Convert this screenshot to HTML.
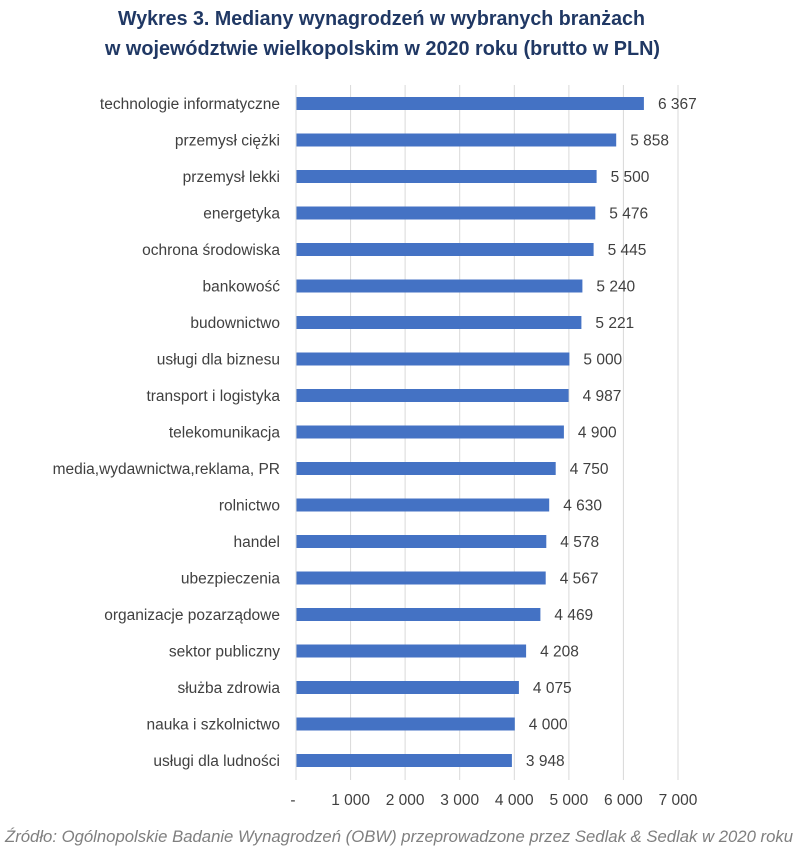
<!DOCTYPE html>
<html><head><meta charset="utf-8"><style>
html,body{margin:0;padding:0;background:#fff;width:800px;height:851px;overflow:hidden}
svg{display:block}
.c{font-family:"Liberation Sans",sans-serif;font-size:15.5px;fill:#404040}
.v{font-family:"Liberation Sans",sans-serif;font-size:15.5px;fill:#404040}
.t{font-family:"Liberation Sans",sans-serif;font-size:20.5px;font-weight:bold;fill:#203864}
</style></head><body>
<svg width="800" height="851" viewBox="0 0 800 851" xmlns="http://www.w3.org/2000/svg">
<text class="t" x="118" y="25" textLength="527" lengthAdjust="spacingAndGlyphs">Wykres 3. Mediany wynagrodzeń w wybranych branżach</text>
<text class="t" x="105" y="55" textLength="555" lengthAdjust="spacingAndGlyphs">w województwie wielkopolskim w 2020 roku (brutto w PLN)</text>
<g stroke="#d9d9d9" stroke-width="1">
<line x1="296" y1="85" x2="296" y2="780"/>
<line x1="350.6" y1="85" x2="350.6" y2="780"/>
<line x1="405.1" y1="85" x2="405.1" y2="780"/>
<line x1="459.7" y1="85" x2="459.7" y2="780"/>
<line x1="514.3" y1="85" x2="514.3" y2="780"/>
<line x1="568.9" y1="85" x2="568.9" y2="780"/>
<line x1="623.4" y1="85" x2="623.4" y2="780"/>
<line x1="678" y1="85" x2="678" y2="780"/>
</g>
<g fill="#4472C4">
<rect x="296.5" y="97" width="347.4" height="13"/>
<rect x="296.5" y="133.5" width="319.7" height="13"/>
<rect x="296.5" y="170" width="300.1" height="13"/>
<rect x="296.5" y="206.5" width="298.8" height="13"/>
<rect x="296.5" y="243" width="297.1" height="13"/>
<rect x="296.5" y="279.5" width="285.9" height="13"/>
<rect x="296.5" y="316" width="284.9" height="13"/>
<rect x="296.5" y="352.5" width="272.9" height="13"/>
<rect x="296.5" y="389" width="272.1" height="13"/>
<rect x="296.5" y="425.5" width="267.4" height="13"/>
<rect x="296.5" y="462" width="259.2" height="13"/>
<rect x="296.5" y="498.5" width="252.7" height="13"/>
<rect x="296.5" y="535" width="249.8" height="13"/>
<rect x="296.5" y="571.5" width="249.2" height="13"/>
<rect x="296.5" y="608" width="243.9" height="13"/>
<rect x="296.5" y="644.5" width="229.6" height="13"/>
<rect x="296.5" y="681" width="222.4" height="13"/>
<rect x="296.5" y="717.5" width="218.3" height="13"/>
<rect x="296.5" y="754" width="215.4" height="13"/>
</g>
<g class="c" text-anchor="end">
<text x="280" y="109">technologie informatyczne</text>
<text x="280" y="145.5">przemysł ciężki</text>
<text x="280" y="182">przemysł lekki</text>
<text x="280" y="218.5">energetyka</text>
<text x="280" y="255">ochrona środowiska</text>
<text x="280" y="291.5">bankowość</text>
<text x="280" y="328">budownictwo</text>
<text x="280" y="364.5">usługi dla biznesu</text>
<text x="280" y="401">transport i logistyka</text>
<text x="280" y="437.5">telekomunikacja</text>
<text x="280" y="474">media,wydawnictwa,reklama, PR</text>
<text x="280" y="510.5">rolnictwo</text>
<text x="280" y="547">handel</text>
<text x="280" y="583.5">ubezpieczenia</text>
<text x="280" y="620">organizacje pozarządowe</text>
<text x="280" y="656.5">sektor publiczny</text>
<text x="280" y="693">służba zdrowia</text>
<text x="280" y="729.5">nauka i szkolnictwo</text>
<text x="280" y="766">usługi dla ludności</text>
</g>
<g class="v">
<text x="658" y="109">6 367</text>
<text x="630.2" y="145.5">5 858</text>
<text x="610.6" y="182">5 500</text>
<text x="609.3" y="218.5">5 476</text>
<text x="607.6" y="255">5 445</text>
<text x="596.4" y="291.5">5 240</text>
<text x="595.4" y="328">5 221</text>
<text x="583.4" y="364.5">5 000</text>
<text x="582.6" y="401">4 987</text>
<text x="577.9" y="437.5">4 900</text>
<text x="569.7" y="474">4 750</text>
<text x="563.2" y="510.5">4 630</text>
<text x="560.3" y="547">4 578</text>
<text x="559.7" y="583.5">4 567</text>
<text x="554.4" y="620">4 469</text>
<text x="540.1" y="656.5">4 208</text>
<text x="532.9" y="693">4 075</text>
<text x="528.8" y="729.5">4 000</text>
<text x="525.9" y="766">3 948</text>
</g>
<g class="v" text-anchor="middle">
<text x="293" y="805">-</text>
<text x="350.6" y="805">1 000</text>
<text x="405.1" y="805">2 000</text>
<text x="459.7" y="805">3 000</text>
<text x="514.3" y="805">4 000</text>
<text x="568.9" y="805">5 000</text>
<text x="623.4" y="805">6 000</text>
<text x="678" y="805">7 000</text>
</g>
<text x="5" y="842" font-family="Liberation Sans, sans-serif" font-size="16.5" font-style="italic" fill="#7f7f7f" textLength="788" lengthAdjust="spacingAndGlyphs">Źródło: Ogólnopolskie Badanie Wynagrodzeń (OBW) przeprowadzone przez Sedlak &amp; Sedlak w 2020 roku</text>
</svg>
</body></html>
